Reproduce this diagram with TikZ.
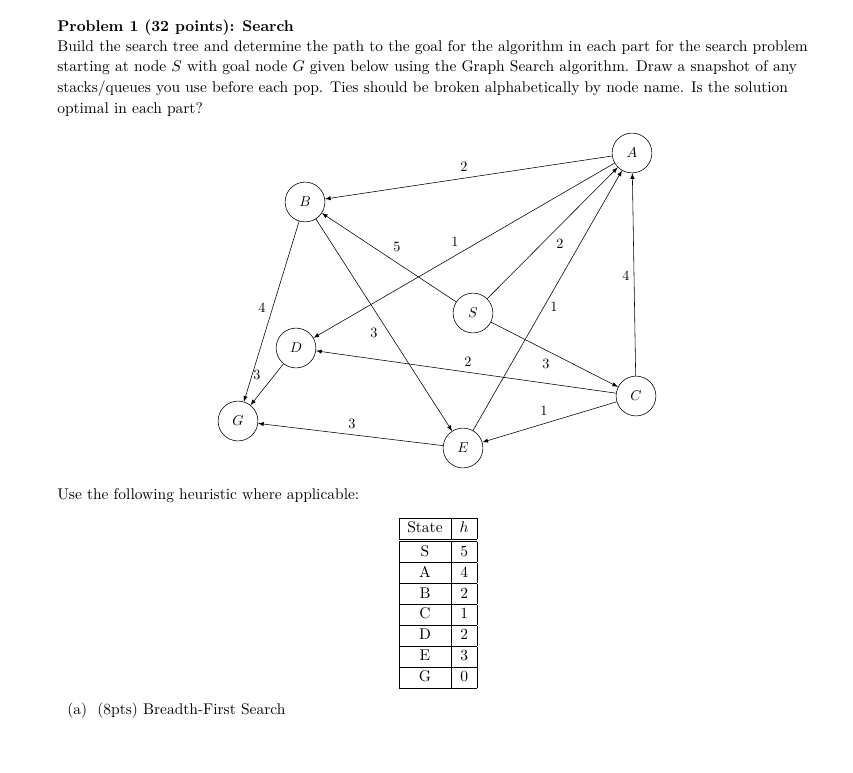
\documentclass[tikz,border=0pt]{standalone}
\newcommand\bsz{\fontsize{10.9}{14.6}\selectfont}
\newcommand\wsz{\fontsize{10}{12}\selectfont}
\begin{document}
\begin{tikzpicture}[x=0.7034pt,y=-0.7034pt,
  vtx/.style={draw,circle,minimum size=28pt,inner sep=0pt,font=\wsz\itshape},
  arc/.style={-latex,thin},
  wt/.style={font=\wsz,inner sep=1pt},
  txt/.style={anchor=north west,align=left,inner sep=0pt,font=\bsz}]
\useasboundingbox (0,0) rectangle (853,772);
\node[txt,font=\bsz\bfseries] (title) at (57,20) {Problem 1 (32 points): Search};
\node[txt] (para) at (57,40)
{Build the search tree and determine the path to the goal for the algorithm in each part for the search problem\\
starting at node $S$ with goal node $G$ given below using the Graph Search algorithm. Draw a snapshot of any\\
stacks/queues you use before each pop. Ties should be broken alphabetically by node name. Is the solution\\
optimal in each part?};
\node[vtx] (A) at (632,153) {$A$};
\node[vtx] (B) at (305,202) {$B$};
\node[vtx] (S) at (473,313) {$S$};
\node[vtx] (D) at (296,348) {$D$};
\node[vtx] (C) at (636,396) {$C$};
\node[vtx] (G) at (238,421) {$G$};
\node[vtx] (E) at (463,448) {$E$};
\draw[arc] (A) -- (B);
\draw[arc] (A) -- (D);
\draw[arc] (S) -- (A);
\draw[arc] (E) -- (A);
\draw[arc] (C) -- (A);
\draw[arc] (S) -- (B);
\draw[arc] (S) -- (C);
\draw[arc] (C) -- (D);
\draw[arc] (C) -- (E);
\draw[arc] (B) -- (G);
\draw[arc] (B) -- (E);
\draw[arc] (D) -- (G);
\draw[arc] (E) -- (G);
\node[wt] (w1) at (464,167) {2};
\node[wt] (w2) at (455,242) {1};
\node[wt] (w3) at (397,247) {5};
\node[wt] (w4) at (560,244) {2};
\node[wt] (w5) at (626,276) {4};
\node[wt] (w6) at (554,307) {1};
\node[wt] (w7) at (262,308) {4};
\node[wt] (w8) at (374,333) {3};
\node[wt] (w9) at (257,375) {3};
\node[wt] (w10) at (468,362) {2};
\node[wt] (w11) at (546,364) {3};
\node[wt] (w12) at (544,411) {1};
\node[wt] (w13) at (352,424) {3};
\node[txt] (heur) at (57,488) {Use the following heuristic where applicable:};
\node[inner sep=0pt,font=\bsz] (tab) at (438,603) {\renewcommand{\arraystretch}{0.98}\begin{tabular}{|c|c|}
\hline State & $h$\\ \hline\hline
S & 5\\ \hline A & 4\\ \hline B & 2\\ \hline C & 1\\ \hline D & 2\\ \hline E & 3\\ \hline G & 0\\ \hline
\end{tabular}};
\node[txt] (parta) at (67,703) {(a)\ \ (8pts) Breadth-First Search};
\end{tikzpicture}
\end{document}
